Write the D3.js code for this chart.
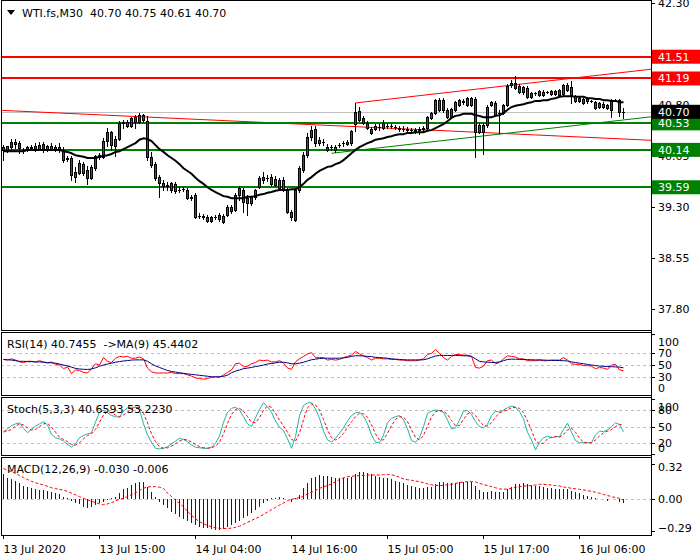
<!DOCTYPE html>
<html><head><meta charset="utf-8">
<script src="https://cdn.jsdelivr.net/npm/d3@7"></script>
<style>
body{margin:0;background:#fff}
svg{display:block}
text{font-family:"DejaVu Sans",sans-serif;font-size:11px}
</style>
</head><body><svg id="c" width="700" height="560"></svg>
<script>
// ---------- DATA ----------
const title = "WTI.fs,M30  40.70 40.75 40.61 40.70";
const opens = [40.14,40.14,40.18,40.26,40.24,40.14,40.14,40.18,40.20,40.15,
40.23,40.14,40.20,40.14,40.18,40.14,40.01,40.02,39.74,39.80,
39.93,39.84,39.73,39.87,40.04,40.04,40.27,40.40,40.20,40.30,
40.54,40.49,40.49,40.62,40.55,40.65,40.56,40.04,39.93,39.74,
39.65,39.61,39.55,39.64,39.55,39.56,39.55,39.43,39.48,39.17,
39.17,39.09,39.09,39.15,39.12,39.17,39.18,39.30,39.26,39.48,
39.55,39.43,39.36,39.45,39.59,39.74,39.73,39.74,39.71,39.58,
39.70,39.55,39.23,39.11,39.55,39.84,40.06,40.33,40.45,40.29,
40.26,40.18,40.18,40.18,40.21,40.24,40.23,40.24,40.52,40.71,
40.61,40.46,40.45,40.45,40.48,40.54,40.49,40.49,40.48,40.46,
40.45,40.45,40.43,40.43,40.43,40.45,40.46,40.61,40.68,40.87,
40.87,40.73,40.62,40.73,40.80,40.86,40.80,40.80,40.89,40.51,
40.40,40.51,40.80,40.83,40.68,40.68,40.80,41.09,41.12,41.08,
40.99,41.05,40.92,40.98,40.95,40.99,40.99,40.96,40.96,40.95,
40.96,41.09,41.06,40.93,40.90,40.89,40.89,40.86,40.84,40.77,
40.81,40.80,40.73,40.87,40.87,40.70];
const highs = [40.21,40.20,40.30,40.30,40.27,40.17,40.20,40.21,40.24,40.26,
40.26,40.21,40.24,40.21,40.24,40.18,40.05,40.05,39.89,39.99,
39.96,39.90,39.92,40.06,40.09,40.31,40.46,40.42,40.34,40.56,
40.58,40.58,40.62,40.65,40.68,40.67,40.64,40.11,39.96,39.77,
39.70,39.67,39.67,39.67,39.59,39.59,39.58,39.48,39.51,39.21,
39.20,39.18,39.17,39.18,39.21,39.20,39.33,39.33,39.51,39.61,
39.58,39.48,39.46,39.56,39.76,39.81,39.77,39.79,39.76,39.73,
39.74,39.58,39.26,39.58,39.90,40.11,40.39,40.49,40.49,40.33,
40.30,40.23,40.21,40.21,40.24,40.27,40.29,40.43,40.83,40.77,
40.64,40.56,40.48,40.52,40.52,40.58,40.54,40.52,40.51,40.49,
40.49,40.48,40.46,40.46,40.48,40.49,40.64,40.70,40.89,40.90,
40.90,40.76,40.76,40.86,40.89,40.89,40.92,40.92,40.92,40.54,
40.54,40.80,40.86,40.86,40.73,40.81,41.11,41.17,41.23,41.11,
41.08,41.08,40.99,40.99,41.02,41.02,41.01,41.02,41.02,41.04,
41.11,41.12,41.15,40.95,40.92,40.90,40.90,40.87,40.86,40.84,
40.84,40.81,40.89,40.89,40.89,40.75];
const lows = [39.99,40.11,40.15,40.17,40.09,40.09,40.12,40.14,40.12,40.14,
40.11,40.12,40.14,40.12,40.11,39.96,39.98,39.70,39.67,39.79,
39.77,39.64,39.71,39.84,40.01,40.02,40.20,40.14,40.05,40.29,
40.46,40.48,40.48,40.46,40.54,40.55,39.99,39.89,39.70,39.45,
39.55,39.55,39.52,39.51,39.52,39.54,39.42,39.40,39.14,39.14,
39.12,39.08,39.08,39.12,39.09,39.06,39.17,39.21,39.24,39.40,
39.23,39.18,39.33,39.42,39.58,39.65,39.68,39.61,39.61,39.56,
39.54,39.21,39.11,39.09,39.52,39.81,40.04,40.29,40.20,40.21,
40.21,40.12,40.14,40.11,40.18,40.20,40.21,40.21,40.42,40.56,
40.52,40.45,40.37,40.43,40.43,40.45,40.46,40.46,40.45,40.42,
40.42,40.42,40.40,40.39,40.37,40.42,40.43,40.59,40.67,40.71,
40.70,40.61,40.61,40.71,40.79,40.81,40.79,40.79,40.04,40.39,
40.08,40.48,40.79,40.64,40.39,40.67,40.79,41.06,41.04,40.98,
40.96,40.90,40.90,40.95,40.93,40.93,40.98,40.95,40.95,40.93,
40.95,41.01,40.83,40.84,40.84,40.81,40.83,40.84,40.74,40.76,
40.76,40.74,40.62,40.86,40.64,40.61];
const closes = [40.18,40.20,40.26,40.23,40.17,40.12,40.18,40.17,40.15,40.21,
40.15,40.20,40.15,40.18,40.14,39.99,40.02,39.77,39.81,39.95,
39.80,39.73,39.89,40.05,40.06,40.27,40.40,40.21,40.30,40.54,
40.55,40.55,40.61,40.55,40.65,40.58,40.04,39.92,39.73,39.65,
39.61,39.62,39.65,39.54,39.55,39.56,39.43,39.45,39.15,39.17,
39.15,39.15,39.15,39.15,39.18,39.08,39.30,39.24,39.48,39.58,
39.37,39.36,39.45,39.55,39.73,39.70,39.73,39.64,39.62,39.70,
39.55,39.23,39.15,39.55,39.87,40.06,40.33,40.43,40.24,40.24,
40.26,40.14,40.18,40.14,40.21,40.24,40.26,40.42,40.70,40.58,
40.54,40.54,40.39,40.49,40.48,40.46,40.49,40.49,40.48,40.45,
40.45,40.43,40.43,40.42,40.45,40.46,40.62,40.68,40.87,40.73,
40.73,40.62,40.74,40.84,40.87,40.84,40.90,40.90,40.40,40.40,
40.51,40.77,40.84,40.65,40.68,40.80,41.08,41.12,41.05,40.99,
41.06,40.92,40.98,40.98,41.01,40.95,40.99,41.01,41.01,41.02,
41.09,41.02,40.93,40.86,40.86,40.83,40.86,40.86,40.76,40.83,
40.77,40.76,40.87,40.87,40.70,40.70];
const maValues = [40.12,40.12,40.12,40.12,40.12,40.12,40.14,40.14,40.14,40.14,
40.14,40.14,40.14,40.14,40.14,40.12,40.11,40.09,40.06,40.05,
40.04,40.02,40.02,40.02,40.04,40.05,40.06,40.08,40.11,40.12,
40.15,40.18,40.21,40.24,40.29,40.31,40.30,40.27,40.21,40.15,
40.11,40.06,40.02,39.98,39.93,39.87,39.83,39.79,39.73,39.68,
39.64,39.59,39.55,39.52,39.49,39.46,39.45,39.43,39.43,39.43,
39.43,39.45,39.45,39.46,39.48,39.49,39.51,39.52,39.54,39.55,
39.55,39.55,39.56,39.56,39.59,39.64,39.70,39.74,39.79,39.83,
39.86,39.89,39.90,39.93,39.95,39.99,40.04,40.09,40.14,40.18,
40.21,40.24,40.26,40.29,40.30,40.31,40.33,40.34,40.36,40.37,
40.37,40.39,40.39,40.40,40.40,40.40,40.42,40.43,40.46,40.49,
40.52,40.56,40.61,40.64,40.65,40.67,40.67,40.67,40.65,40.64,
40.62,40.62,40.62,40.64,40.65,40.68,40.73,40.77,40.79,40.80,
40.81,40.83,40.84,40.86,40.86,40.87,40.87,40.89,40.90,40.92,
40.93,40.93,40.93,40.92,40.92,40.92,40.90,40.90,40.89,40.89,
40.87,40.87,40.86,40.86,40.84,40.84];
const rsiValues = [59,58,60,58,55,54,56,56,55,57,55,53,55,51,50,44,47,36,42,41,
38,37,44,52,50,62,56,54,61,64,63,64,61,61,63,60,45,39,37,37,
37,37,38,36,36,36,34,32,29,28,27,28,30,31,30,34,38,42,52,53,
47,48,52,54,58,57,58,55,55,57,53,45,43,55,60,64,68,70,62,62,
62,58,59,58,59,62,64,66,72,68,65,62,58,61,61,60,60,59,59,58,
58,57,57,57,58,60,67,69,75,69,62,58,64,67,67,66,66,64,46,45,
48,57,58,52,54,60,65,64,63,60,60,57,57,57,58,57,57,58,58,58,
62,58,52,51,51,49,49,48,44,46,45,43,50,51,42,40.7455];
const rsiMaValues = [59,58.5,58,57,56,56,55.5,55.5,55,55,54.5,54,53.5,53,51.5,50,48.5,46.5,44.5,43.5,
43,42.8,43.5,45.5,48,50,51.5,53,54.5,55.6,56.5,57.2,58,58.3,58.3,58.3,56,52,48.5,46,
43.5,41,39.5,38.5,37.5,36.5,35.5,34.8,34,33.3,32.5,31.8,30.8,30.6,31,31.7,33.5,37.5,40,42,
44,45,46,47.5,48.5,50,51.5,52.5,53.5,54.5,54.5,53.5,52,52,53,54.5,56.5,58.5,59.5,60.5,
61,61,61,61,61,61.5,62.5,64,65,65,64.5,64,63.5,62.5,62,61.5,61,60,59.5,59,
58.5,58.3,58.3,58.3,58.3,58.5,60,62.5,64.5,65.5,65.5,65.5,65.5,65.5,65.2,65,64.8,64,60,56,
55,54.5,54.2,54,55,57,59,59.5,59.5,59,59,58.7,58.5,58.3,58.3,58,57.7,57.5,57.3,57.2,
57,56.5,55,54,53,52,51,50,49,48.3,47.8,47.5,47.2,47,46.5,45.4402];
const stochK = [39,46,52,55,57,47,39,45,51,55,59,53,36,30,28,24,18,13,19,30,
34,37,39,58,76,79,75,70,68,67,78,84,85,85,81,55,35,22,11,10,
11,14,19,24,29,27,23,17,13,12,11,11,13,20,33,58,76,83,85,80,
68,55,50,66,81,93,86,76,60,49,43,28,11,32,70,88,93,93,82,65,
42,26,22,29,38,48,60,70,75,76,69,55,35,22,21,35,57,65,68,70,
62,46,25,22,30,50,74,78,80,79,76,62,46,48,62,78,79,72,59,50,
48,54,70,78,76,80,84,87,85,77,64,40,26,8,22,30,33,30,32,32,
45,56,40,25,21,21,21,21,35,42,41,44,50,57,54,40.6593];
const stochD = [42,42,45,51,55,53,48,44,45,50,55,56,49,40,31,27,23,18,17,21,
28,34,37,45,58,71,77,75,71,68,71,76,82,85,84,74,57,37,23,14,
11,12,15,19,24,27,26,22,18,14,12,11,12,15,22,37,56,72,81,83,
78,68,58,57,66,80,87,85,74,62,51,40,27,24,38,63,84,91,89,80,
63,44,30,26,30,38,49,59,68,74,73,67,53,37,26,26,38,52,63,68,
67,59,44,31,26,34,51,67,77,79,78,72,61,52,52,63,73,76,70,60,
52,51,57,67,75,78,80,84,85,83,75,60,43,25,19,20,28,31,32,31,
36,44,47,40,29,22,21,21,26,33,39,42,45,50,54,53.2230];
const macdMain = [0.230,0.197,0.185,0.167,0.145,0.124,0.109,0.100,0.091,0.085,
0.085,0.076,0.070,0.061,0.048,0.024,0.009,-0.015,-0.030,-0.045,
-0.067,-0.076,-0.067,-0.052,-0.036,-0.021,-0.006,0.009,0.024,0.055,
0.091,0.106,0.130,0.145,0.161,0.161,0.115,0.070,0.024,-0.021,
-0.052,-0.082,-0.112,-0.136,-0.158,-0.179,-0.197,-0.212,-0.233,-0.248,
-0.258,-0.264,-0.270,-0.279,-0.279,-0.270,-0.255,-0.233,-0.218,-0.197,
-0.173,-0.152,-0.121,-0.097,-0.067,-0.030,-0.012,0.015,0.009,0.021,
0.015,0.003,-0.021,0.009,0.039,0.100,0.145,0.191,0.206,0.221,
0.215,0.215,0.206,0.197,0.197,0.190,0.190,0.206,0.230,0.252,
0.252,0.236,0.227,0.215,0.206,0.197,0.191,0.185,0.167,0.155,
0.145,0.130,0.121,0.112,0.106,0.100,0.109,0.115,0.136,0.155,
0.155,0.145,0.145,0.152,0.161,0.155,0.161,0.161,0.121,0.085,
0.070,0.070,0.076,0.070,0.070,0.070,0.094,0.115,0.136,0.136,
0.145,0.136,0.130,0.124,0.121,0.109,0.100,0.100,0.094,0.094,
0.091,0.094,0.076,0.064,0.055,0.039,0.030,0.021,0.009,0.002,
0.001,-0.015,0.002,0.001,-0.021,-0.030];
const macdSignal = [0.280,0.265,0.250,0.235,0.215,0.197,0.180,0.163,0.150,0.140,
0.130,0.118,0.105,0.097,0.090,0.085,0.072,0.056,0.040,0.024,
0.009,-0.005,-0.018,-0.030,-0.042,-0.050,-0.042,-0.030,-0.015,0.000,
0.009,0.025,0.042,0.060,0.080,0.100,0.112,0.115,0.115,0.110,
0.098,0.055,0.025,-0.010,-0.036,-0.070,-0.110,-0.145,-0.178,-0.203,
-0.222,-0.238,-0.250,-0.258,-0.264,-0.266,-0.265,-0.262,-0.255,-0.245,
-0.228,-0.210,-0.192,-0.175,-0.158,-0.138,-0.115,-0.095,-0.073,-0.052,
-0.033,-0.012,0.000,0.008,0.015,0.028,0.048,0.065,0.080,0.100,
0.112,0.125,0.140,0.160,0.180,0.195,0.205,0.210,0.213,0.215,
0.218,0.221,0.221,0.221,0.221,0.224,0.227,0.222,0.215,0.200,
0.185,0.178,0.173,0.166,0.161,0.150,0.140,0.132,0.126,0.124,
0.127,0.132,0.138,0.145,0.152,0.158,0.161,0.161,0.158,0.145,
0.133,0.125,0.115,0.105,0.094,0.092,0.093,0.100,0.108,0.115,
0.120,0.122,0.124,0.130,0.136,0.136,0.134,0.130,0.125,0.121,
0.112,0.107,0.100,0.096,0.091,0.085,0.079,0.072,0.064,0.055,
0.045,0.035,0.024,0.016,0.009,-0.006];
const priceTicks = [42.30,41.55,40.80,40.05,39.30,38.55,37.80];
const levelPrices = [41.51,41.19,40.53,40.14,39.59];
const levelColors = ["#ff0000","#ff0000","#008000","#008000","#008000"];
const bidPrice = 40.70;
const trendFrom = [[0,40.72],[88,40.83],[82,40.09]];
const trendTo   = [[155,40.30],[155,41.28],[155,40.58]];
const trendColors = ["#ff0000","#ff0000","#008000"];
const trendExtendLeft = [true,false,false];
const timeTickBars = [0,24,48,72,96,120,144];
const timeTickLabels = ["13 Jul 2020","13 Jul 15:00","14 Jul 04:00","14 Jul 16:00","15 Jul 05:00","15 Jul 17:00","16 Jul 06:00"];
const rsiLevels = [70,50,30];
const rsiAxisValues = [100,70,50,30,0];
const stochLevels = [80,50,20];
const stochAxisValues = [100,80,50,20,0];
const macdAxisValues = [0.32,0.00,-0.29];
const rsiTitle = "RSI(14) 40.7455  ->MA(9) 45.4402";
const stochTitle = "Stoch(5,3,3) 40.6593 53.2230";
const macdTitle = "MACD(12,26,9) -0.030 -0.006";

// ---------- LAYOUT ----------
const svg = d3.select("#c");
const L = 1, R = 651;
const P = {main:[0,330], rsi:[332,395], sto:[397,455], macd:[457,535]};
const N = opens.length;
const x = d3.scaleLinear().domain([0,155]).range([3,623]);
const yMain = d3.scaleLinear().domain([37.80,42.30]).range([309,3]);
const yRsi = d3.scaleLinear().domain([0,100]).range([395.8,334.2]);
const ySto = d3.scaleLinear().domain([0,100]).range([454.4,398.9]);
const yMacd = d3.scaleLinear().domain([-0.29,0.32]).range([499.3+0.29*110,499.3-0.32*110]);

const defs = svg.append("defs");
Object.entries(P).forEach(([k,[t,b]])=>{
  defs.append("clipPath").attr("id","clip-"+k).append("rect")
    .attr("x",L+1).attr("y",t+1).attr("width",R-L-1).attr("height",b-t-1);
});

svg.append("rect").attr("width",700).attr("height",560).attr("fill","#fff");

// ---------- MAIN PANEL ----------
const gm = svg.append("g").attr("clip-path","url(#clip-main)");
// bid line
gm.append("line").attr("x1",L).attr("x2",R).attr("y1",Math.round(yMain(bidPrice))+0.5).attr("y2",Math.round(yMain(bidPrice))+0.5)
  .attr("stroke","#c0c0c0").attr("stroke-width",1);
// trend lines
trendFrom.forEach((f,k)=>{
  const t = trendTo[k];
  const x1 = x(f[0])+0.5, y1 = yMain(f[1]), x2 = x(t[0])+0.5, y2 = yMain(t[1]);
  const s = (y2-y1)/(x2-x1);
  const xa = trendExtendLeft[k] ? L : x1;
  gm.append("line").attr("x1",xa).attr("y1",y1+(xa-x1)*s).attr("x2",R).attr("y2",y1+(R-x1)*s)
    .attr("stroke",trendColors[k]).attr("stroke-width",1);
});
// horizontal levels
levelPrices.forEach((p,k)=>{
  const yy = Math.round(yMain(p));
  gm.append("line").attr("x1",L).attr("x2",R).attr("y1",yy).attr("y2",yy)
    .attr("stroke",levelColors[k]).attr("stroke-width",2);
});
// candles
const bars = d3.range(N).map(i=>({i,o:opens[i],h:highs[i],l:lows[i],c:closes[i]}));
gm.append("g").selectAll("line").data(bars).join("line")
  .attr("x1",d=>x(d.i)+0.5).attr("x2",d=>x(d.i)+0.5)
  .attr("y1",d=>Math.round(yMain(d.h))).attr("y2",d=>Math.round(yMain(d.l))+1)
  .attr("stroke","#000").attr("stroke-width",1);
const bodies = bars.map(d=>{
  const top = Math.round(yMain(Math.max(d.o,d.c))), bot = Math.round(yMain(Math.min(d.o,d.c)));
  return {...d, top, bot};
});
gm.append("g").selectAll("rect").data(bodies.filter(d=>d.bot-d.top>=1)).join("rect")
  .attr("x",d=>x(d.i)-0.5).attr("y",d=>d.top+0.5).attr("width",2).attr("height",d=>d.bot-d.top)
  .attr("fill",d=>d.c>d.o?"#008000":"#ff0000").attr("stroke","#000").attr("stroke-width",1);
gm.append("g").selectAll("line").data(bodies.filter(d=>d.bot-d.top<1)).join("line")
  .attr("x1",d=>x(d.i)-1).attr("x2",d=>x(d.i)+2).attr("y1",d=>d.top+0.5).attr("y2",d=>d.top+0.5)
  .attr("stroke","#000").attr("stroke-width",1);
// moving average
gm.append("path").datum(maValues)
  .attr("d",d3.line().x((v,i)=>x(i)+0.5).y(v=>yMain(v)))
  .attr("fill","none").attr("stroke","#000").attr("stroke-width",2);

// title
svg.append("path").attr("d","M7,10 L15,10 L11,15 Z").attr("fill","#000");
svg.append("text").attr("x",22).attr("y",17).style("white-space","pre").attr("fill","#000").text(title);

// ---------- INDICATOR PANELS ----------
function dashed(g, scale, levels){
  levels.forEach(v=>{
    const yy = Math.round(scale(v))+0.5;
    g.append("line").attr("x1",L).attr("x2",R).attr("y1",yy).attr("y2",yy)
      .attr("stroke","#c0c0c0").attr("stroke-dasharray","3,3");
  });
}
// RSI
const gr = svg.append("g").attr("clip-path","url(#clip-rsi)");
svg.append("text").attr("x",7).attr("y",P.rsi[0]+16).style("white-space","pre").text(rsiTitle);
dashed(gr, yRsi, rsiLevels);
gr.append("path").datum(rsiValues).attr("d",d3.line().x((v,i)=>x(i)+0.5).y(v=>yRsi(v)))
  .attr("fill","none").attr("stroke","#ff0000").attr("stroke-width",1);
gr.append("path").datum(rsiMaValues).attr("d",d3.line().x((v,i)=>x(i)+0.5).y(v=>yRsi(v)))
  .attr("fill","none").attr("stroke","#000080").attr("stroke-width",1);
// Stoch
const gs = svg.append("g").attr("clip-path","url(#clip-sto)");
svg.append("text").attr("x",7).attr("y",P.sto[0]+16).style("white-space","pre").text(stochTitle);
dashed(gs, ySto, stochLevels);
gs.append("path").datum(stochK).attr("d",d3.line().x((v,i)=>x(i)+0.5).y(v=>ySto(v)))
  .attr("fill","none").attr("stroke","#20b2aa").attr("stroke-width",1);
gs.append("path").datum(stochD).attr("d",d3.line().x((v,i)=>x(i)+0.5).y(v=>ySto(v)))
  .attr("fill","none").attr("stroke","#ff0000").attr("stroke-width",1).attr("stroke-dasharray","3,2");
// MACD
const gd = svg.append("g").attr("clip-path","url(#clip-macd)");
svg.append("text").attr("x",7).attr("y",P.macd[0]+16).style("white-space","pre").text(macdTitle);
dashed(gd, yMacd, [0]);
const z0 = Math.round(yMacd(0));
gd.append("g").selectAll("line").data(macdMain).join("line")
  .attr("x1",(v,i)=>x(i)+0.5).attr("x2",(v,i)=>x(i)+0.5)
  .attr("y1",z0).attr("y2",v=>Math.round(yMacd(v)))
  .attr("stroke","#0000ff").attr("stroke-width",1);
gd.append("path").datum(macdSignal).attr("d",d3.line().x((v,i)=>x(i)+0.5).y(v=>yMacd(v)))
  .attr("fill","none").attr("stroke","#ff0000").attr("stroke-width",1).attr("stroke-dasharray","3,2");

// ---------- BORDERS ----------
Object.values(P).forEach(([t,b])=>{
  svg.append("rect").attr("x",L+0.5).attr("y",t+0.5).attr("width",R-L).attr("height",b-t)
    .attr("fill","none").attr("stroke","#000").attr("stroke-width",1);
});

// ---------- AXES ----------
const gy = svg.append("g").attr("transform",`translate(${R},0)`)
  .call(d3.axisRight(yMain).tickValues(priceTicks).tickFormat(d3.format(".2f")).tickSize(4).tickPadding(3));
gy.select(".domain").remove();
gy.selectAll("text").attr("font-family","DejaVu Sans").attr("font-size",11).attr("fill","#000");
gy.selectAll("line").attr("stroke","#000");

function panelLabels(scale, vals, fmt, t, b){
  vals.forEach(v=>{
    const yy = Math.max(t+9.5, Math.min(b-7, scale(v)));
    svg.append("line").attr("x1",R).attr("x2",R+4).attr("y1",Math.round(scale(Math.max(Math.min(v,1e9),-1e9)))+0.5)
      .attr("y2",Math.round(scale(v))+0.5).attr("stroke","#000").attr("visibility", scale(v)>t && scale(v)<b ? "visible":"hidden");
    svg.append("text").attr("x",R+7).attr("y",yy+4).attr("fill","#000").text(fmt(v));
  });
}
panelLabels(yRsi, rsiAxisValues, d3.format("d"), P.rsi[0], P.rsi[1]);
panelLabels(ySto, stochAxisValues, d3.format("d"), P.sto[0], P.sto[1]);
panelLabels(yMacd, macdAxisValues, d3.format(".2f"), P.macd[0], P.macd[1]);

// price boxes
levelPrices.forEach((p,k)=>{
  const yy = yMain(p);
  svg.append("rect").attr("x",R+1).attr("y",yy-7).attr("width",700-R-1).attr("height",14).attr("fill",levelColors[k]);
  svg.append("text").attr("x",R+7).attr("y",yy+4).attr("fill","#fff").text(d3.format(".2f")(p));
});
{
  const yy = yMain(bidPrice);
  svg.append("rect").attr("x",R+1).attr("y",yy-7).attr("width",700-R-1).attr("height",14).attr("fill","#000");
  svg.append("text").attr("x",R+7).attr("y",yy+4).attr("fill","#fff").text(d3.format(".2f")(bidPrice));
}
// right axis line
svg.append("line").attr("x1",R+0.5).attr("x2",R+0.5).attr("y1",0).attr("y2",P.macd[1]+1).attr("stroke","#000");

// time axis
const gx = svg.append("g").attr("transform",`translate(0,${P.macd[1]})`)
  .call(d3.axisBottom(x).tickValues(timeTickBars).tickFormat((d,i)=>timeTickLabels[i]).tickSize(4).tickPadding(6));
gx.select(".domain").remove();
gx.selectAll("text").attr("text-anchor","start").attr("font-family","DejaVu Sans").attr("font-size",11).attr("fill","#000");
gx.selectAll("line").attr("stroke","#000");
</script>
</body></html>
